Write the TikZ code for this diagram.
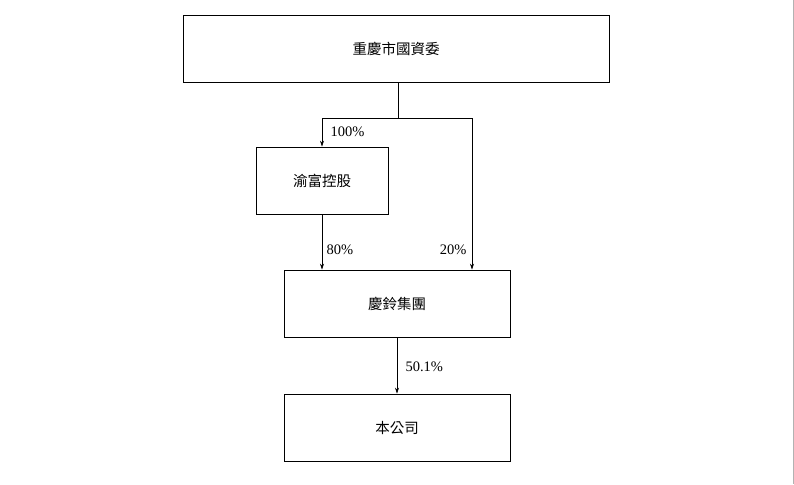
\documentclass[tikz,border=0pt]{standalone}
\usepackage{fontspec}
\setmainfont{Liberation Serif}
\newfontfamily\cjk{Noto Sans CJK TC}
\usetikzlibrary{arrows.meta}
\begin{document}
\begin{tikzpicture}[x=1pt,y=-1pt,
  box/.style={draw,line width=0.8pt,inner sep=0pt,font=\cjk\fontsize{14.5}{14.5}\selectfont},
  conn/.style={line width=0.6pt},
  arr/.style={conn,-{Stealth[length=6pt,width=4pt]}},
  lab/.style={font=\fontsize{14.5}{14.5}\selectfont}]
\useasboundingbox (0,0) rectangle (794,484);
\node[box,minimum width=426pt,minimum height=67pt] (top) at (396,48.5) {重慶市國資委};
\node[box,minimum width=132pt,minimum height=67pt] (yufu) at (322,180.5) {渝富控股};
\node[box,minimum width=226pt,minimum height=67pt] (ql) at (397,303.5) {慶鈴集團};
\node[box,minimum width=226pt,minimum height=67pt] (co) at (397,427.5) {本公司};
\coordinate (j) at (398,118);
\draw[conn] (j|-top.south) -- (j);
\draw[arr] (j) -| (yufu.north);
\draw[arr] (j) -| (472,0|-ql.north);
\draw[arr] (yufu.south) -- (322,0|-ql.north);
\draw[arr] (ql.south) -- (co.north);
\node[lab,anchor=west] (l1) at (327,132) {100\%};
\node[lab,anchor=west] (l2) at (323,250) {80\%};
\node[lab,anchor=east] (l3) at (470,250) {20\%};
\node[lab,anchor=west] (l4) at (402,367) {50.1\%};
\draw[gray!60,line width=0.8pt] (793,0) -- (793,484);
\end{tikzpicture}
\end{document}
